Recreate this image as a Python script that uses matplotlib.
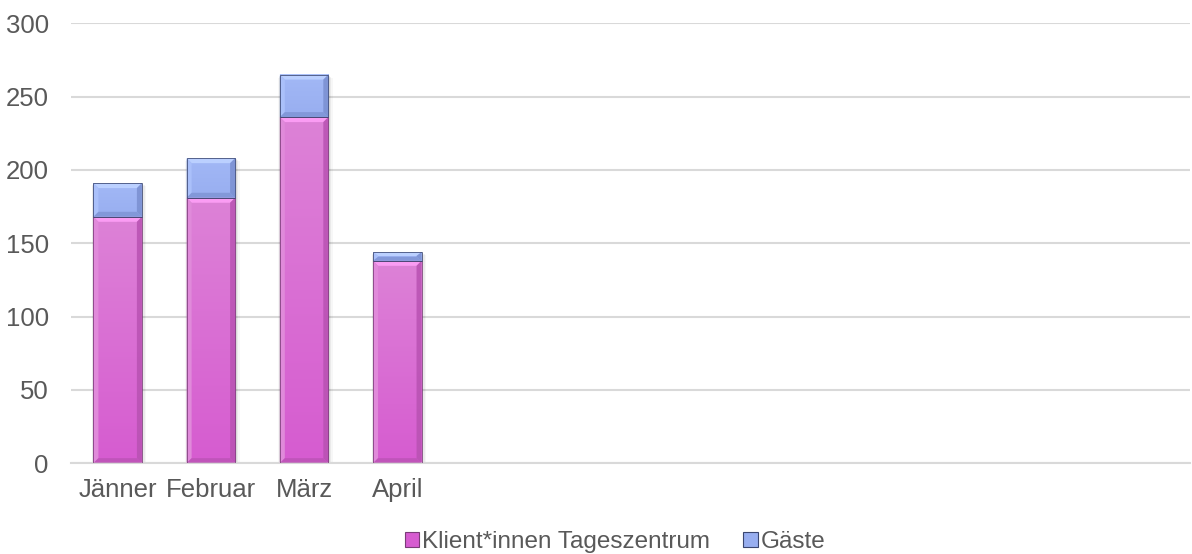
import matplotlib
matplotlib.use("Agg")
import matplotlib.pyplot as plt
import numpy as np
from matplotlib.patches import Polygon, Rectangle
from matplotlib.colors import to_rgb

plt.rcParams['font.family'] = ['Liberation Sans', 'DejaVu Sans']

# Data
months = ["Jänner", "Februar", "März", "April", "", "", "", "", "", "", "", ""]
klienten = [168, 181, 236, 138]
gaeste = [23, 27, 29, 6]
series_names = ["Klient*innen Tageszentrum", "Gäste"]
y_ticks = [0, 50, 100, 150, 200, 250, 300]

# colour sets per series: (gradient top, gradient bottom, top bevel, side bevel, dark bevel, outline)
styles = {
    "pink": ("#DD82D7", "#D65CD0", "#FA9CF3", "#E08ADA", "#B852B2", "#7A3C78"),
    "blue": ("#A2B8F6", "#98AEF0", "#BBD0FF", "#AAC0FA", "#7A8FD0", "#3A4670"),
}
text_col = "#595959"
grid_col = "#D9D9D9"

fig = plt.figure(figsize=(11.92, 5.54), dpi=100)
ax = fig.add_axes([0.0596, 0.164, 0.9384, 0.794])

n = len(months)
x = np.arange(n)
ax.set_xlim(-0.5, n - 0.5)
ax.set_ylim(0, 300)

bar_w = 0.52
xs = x[:len(klienten)]


def px_to_data(px_x, px_y):
    p0 = ax.transData.inverted().transform((0, 0))
    p1 = ax.transData.inverted().transform((px_x, px_y))
    return p1[0] - p0[0], p1[1] - p0[1]


def bevel_bar(xc, bottom, height, style):
    if height <= 0:
        return
    c_top, c_bot, c_bev_top, c_bev_side, c_bev_dark, c_line = styles[style]
    left = xc - bar_w / 2
    right = xc + bar_w / 2
    top = bottom + height
    bx, by = px_to_data(5, 5)
    by = min(by, height / 2.2)
    # soft shadow around the bar
    for k, a in enumerate([0.08, 0.05, 0.03]):
        ox, oy = px_to_data(1 + k, -(1 + k))
        wx, _ = px_to_data(2 * (1 + k), 0)
        ax.add_patch(Rectangle((left - wx / 2 + ox * 0.5, bottom + oy), bar_w + wx, height,
                               facecolor="black", alpha=a, edgecolor="none", zorder=1))
    # base fill with vertical gradient
    grad = np.linspace(0, 1, 64).reshape(-1, 1)
    ct = np.array(to_rgb(c_top))
    cb = np.array(to_rgb(c_bot))
    img = cb[None, None, :] * (1 - grad[..., None]) + ct[None, None, :] * grad[..., None]
    ax.imshow(img, extent=(left, right, bottom, top), origin="lower",
              aspect="auto", zorder=2, interpolation="bilinear")
    # bevel edges
    ax.add_patch(Polygon([(left, top), (right, top), (right - bx, top - by), (left + bx, top - by)],
                         closed=True, facecolor=c_bev_top, edgecolor="none", zorder=3))
    ax.add_patch(Polygon([(left, bottom), (left + bx, bottom + by), (left + bx, top - by), (left, top)],
                         closed=True, facecolor=c_bev_side, edgecolor="none", zorder=3))
    ax.add_patch(Polygon([(right, bottom), (right - bx, bottom + by), (right - bx, top - by), (right, top)],
                         closed=True, facecolor=c_bev_dark, edgecolor="none", alpha=0.85, zorder=3))
    ax.add_patch(Polygon([(left, bottom), (right, bottom), (right - bx, bottom + by), (left + bx, bottom + by)],
                         closed=True, facecolor=c_bev_dark, edgecolor="none", alpha=0.7, zorder=3))
    ax.add_patch(Rectangle((left, bottom), bar_w, height, facecolor="none",
                           edgecolor=c_line, linewidth=0.7, alpha=0.8, zorder=4))


for xc, k, g in zip(xs, klienten, gaeste):
    bevel_bar(xc, 0, k, "pink")
    bevel_bar(xc, k, g, "blue")

ax.set_xlim(-0.5, n - 0.5)
ax.set_ylim(0, 300)

# Axes styling
for s in ["top", "right", "left"]:
    ax.spines[s].set_visible(False)
ax.spines["bottom"].set_color(grid_col)
ax.spines["bottom"].set_linewidth(1.5)
ax.set_yticks(y_ticks)
ax.yaxis.grid(True, color=grid_col, linewidth=1.5, zorder=0)
ax.set_axisbelow(True)
ax.tick_params(axis="both", length=0, colors=text_col, labelsize=18.5)
ax.tick_params(axis="y", pad=16)
ax.tick_params(axis="x", pad=11)
ax.set_xticks(x)
ax.set_xticklabels(months)

# Legend with small bevelled squares
handles = [Rectangle((0, 0), 1, 1, facecolor=styles["pink"][1], edgecolor=styles["pink"][5], linewidth=0.8),
           Rectangle((0, 0), 1, 1, facecolor=styles["blue"][1], edgecolor=styles["blue"][5], linewidth=0.8)]
leg = fig.legend(handles, series_names, loc="center", bbox_to_anchor=(0.516, 0.022),
                 ncol=2, frameon=False, fontsize=17.5, handlelength=0.6, handleheight=0.6,
                 handletextpad=0.12, columnspacing=1.35, labelcolor=text_col)

fig.savefig("out.png", dpi=100)
